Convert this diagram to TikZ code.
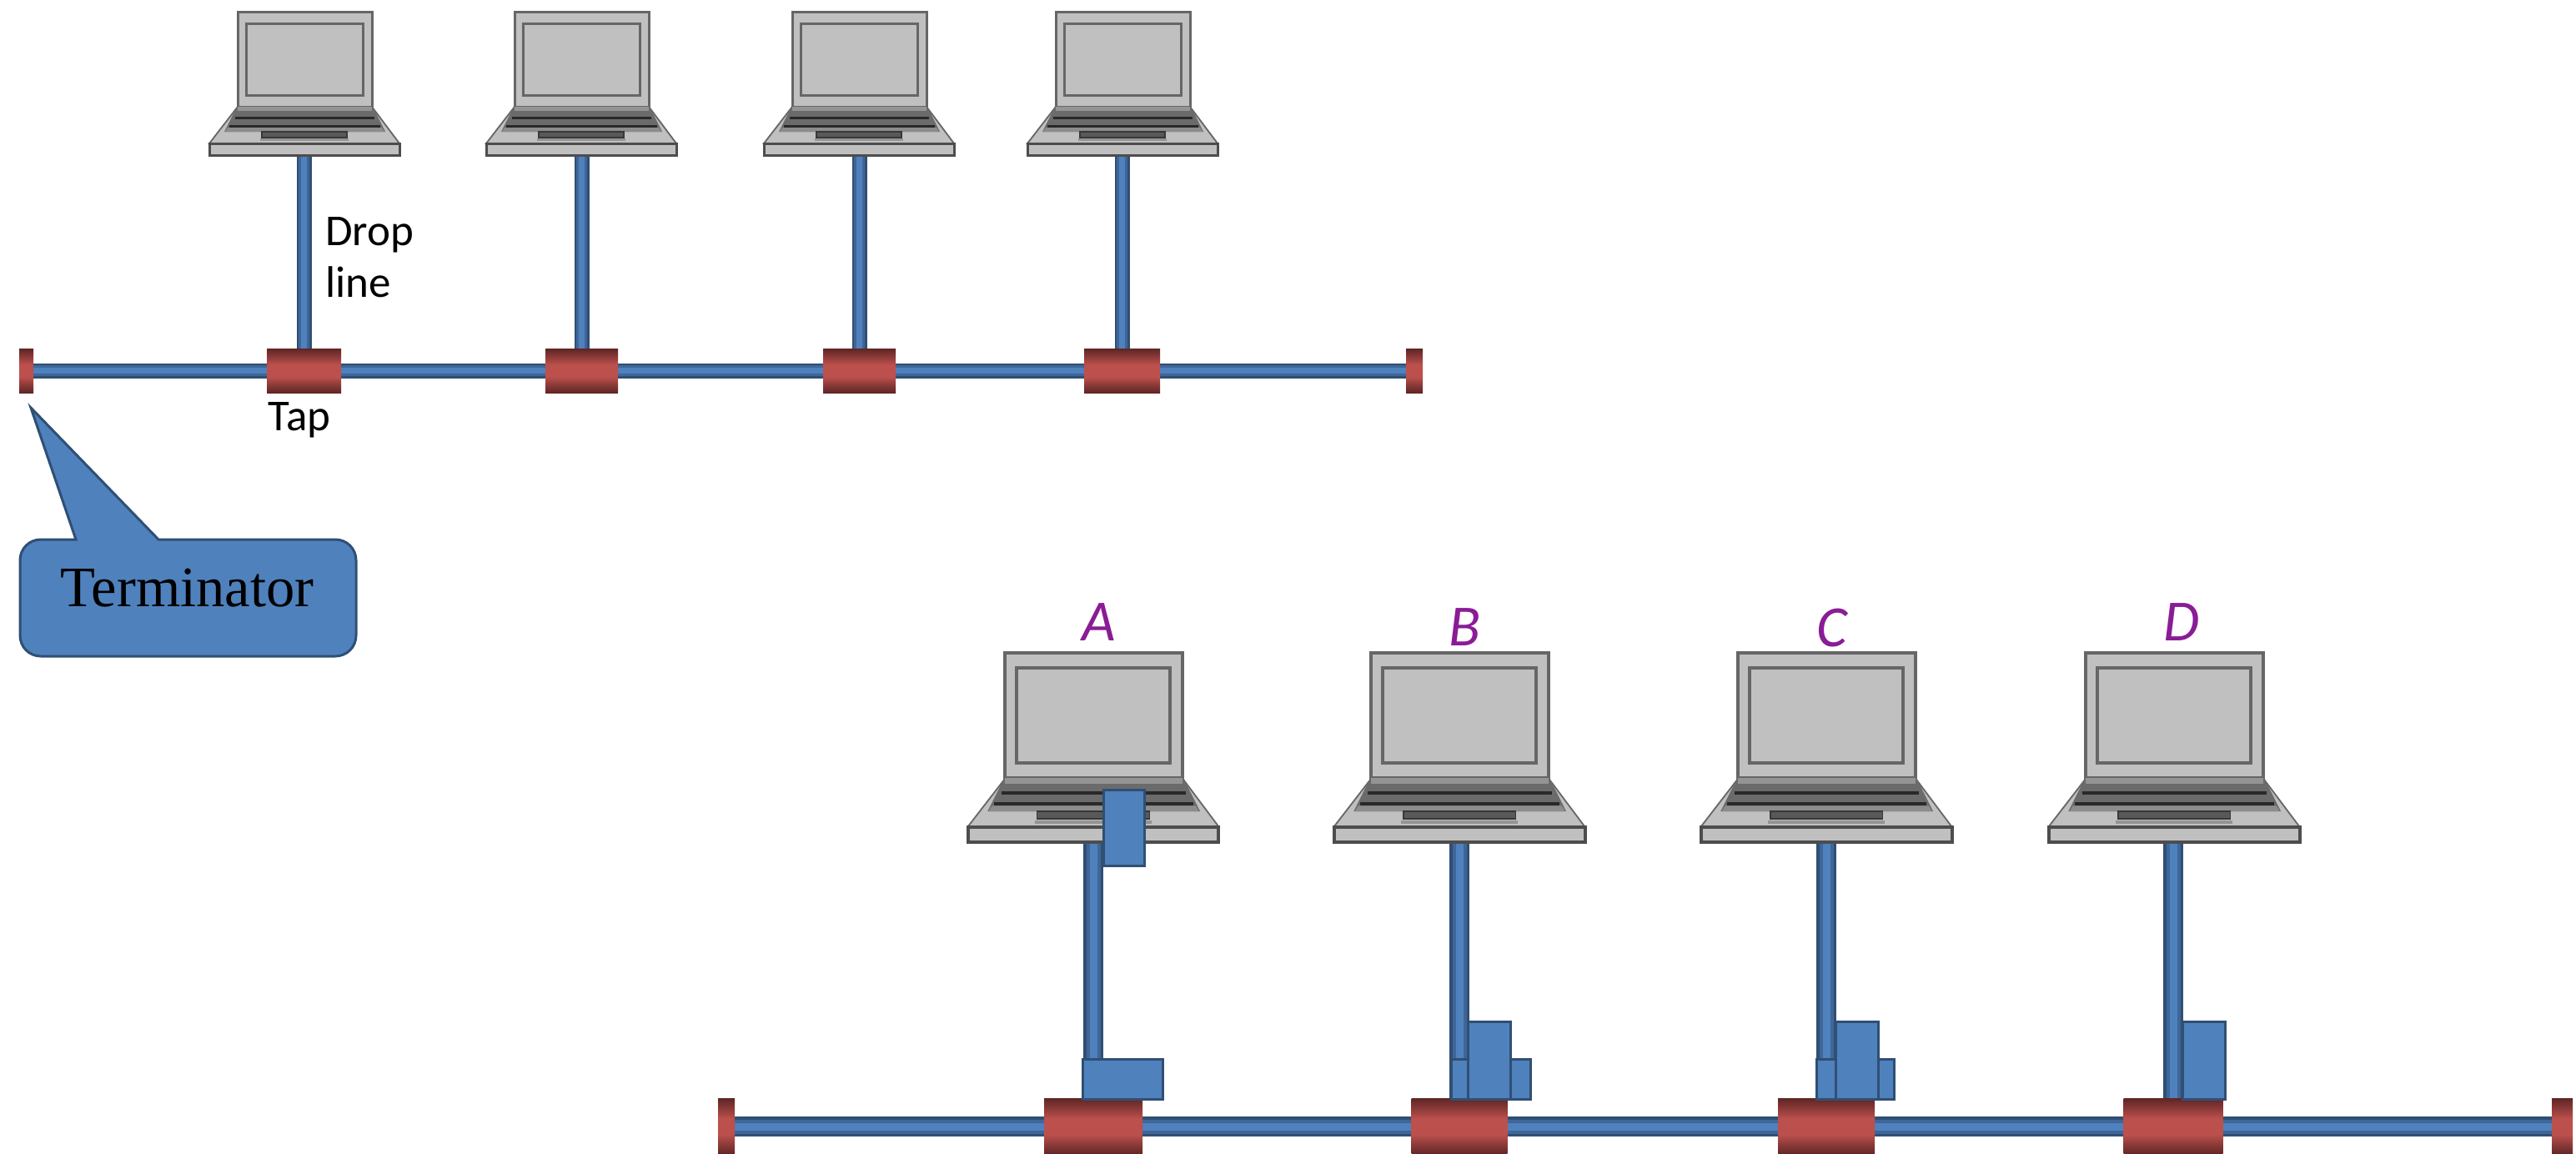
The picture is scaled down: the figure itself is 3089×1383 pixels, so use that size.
\documentclass[tikz,border=0pt]{standalone}
\usepackage{fontspec}
\newfontfamily\calib{Carlito}
\newfontfamily\timesf{Liberation Serif}
\definecolor{pipeD}{HTML}{2F4F74}
\definecolor{pipeM}{HTML}{3F6699}
\definecolor{pipeL}{HTML}{4F81BD}
\definecolor{tapD}{HTML}{5F2524}
\definecolor{tapM}{HTML}{8A3A38}
\definecolor{tapL}{HTML}{BC504C}
\definecolor{lapF}{HTML}{C0C0C0}
\definecolor{lapE}{HTML}{666666}
\definecolor{lapB}{HTML}{4D4D4D}
\definecolor{labP}{HTML}{8A1C96}
\pgfdeclareverticalshading{tapshade}{100bp}{color(0bp)=(tapD); color(25bp)=(tapD); color(34bp)=(tapM); color(43bp)=(tapL); color(57bp)=(tapL); color(66bp)=(tapM); color(75bp)=(tapD); color(100bp)=(tapD)}
\pgfdeclarelayer{pipes}
\pgfsetlayers{pipes,main}
\tikzset{
  wh/.style 2 args={minimum width=#1*0.5pt,minimum height=#2*0.5pt,inner sep=0pt,outer sep=0pt},
  tapnode/.style={rectangle,shading=tapshade,draw=none},
  pbox/.style={rectangle,draw=pipeD,fill=pipeL,line width=1.5pt},
  lapnode/.style={rectangle,draw=none},
  lapline/.style={line width=1.5pt},
  pipeS/.style={draw=pipeD,line width=9pt,postaction={draw=pipeM,line width=6.5pt},postaction={draw=pipeL,line width=3.5pt}},
  pipeB/.style={draw=pipeD,line width=12pt,postaction={draw=pipeM,line width=8.5pt},postaction={draw=pipeL,line width=4.5pt}},
  txt/.style={font=\calib\fontsize{26.5}{31}\selectfont,inner sep=0pt,text=black},
  letter/.style={font=\calib\itshape\fontsize{35}{35}\selectfont,inner sep=0pt,text=labP,anchor=base},
  laptop/.pic={
    % lid
    \path[fill=lapF,draw=lapE,lapline] (-80,-172) rectangle (81,-58);
    \path[fill=lapF,draw=lapE,lapline] (-70,-158) rectangle (70,-72);
    % deck
    \path[fill=lapF,draw=lapE,line width=0.9pt] (-80,-58) -- (81,-58) -- (114,-14) -- (-114,-14) -- cycle;
    \path[fill=black!58] (-81,-58) -- (82,-58) -- (97,-28) -- (-96,-28) -- cycle;
    \path[fill=black!42] (-80,-58) rectangle (81,-53);
    \path[fill=black!84] (-83,-46) rectangle (84,-43);
    \path[fill=black!84] (-90,-36) rectangle (91,-33);
    \path[fill=black!45] (-92,-33) -- (93,-33) -- (96,-28) -- (-95,-28) -- cycle;
    \path[fill=black!65,draw=black!78,line width=0.8pt] (-51,-28) rectangle (51,-21);
    \path[fill=black!42] (-53,-20) rectangle (53,-17);
    % base
    \path[fill=lapF,draw=lapB,lapline] (-114,-14) rectangle (114,0);
  }
}
\begin{document}
\begin{tikzpicture}[x=0.5pt,y=-0.5pt]
\useasboundingbox (0,0) rectangle (3089,1383);
% small laptops
\foreach \n/\x in {1/365,2/697,3/1030,4/1346}{
  \node[lapnode,wh={228}{172},anchor=south] (lap\n) at (\x,186) {};
  \pic at (lap\n.south) {laptop};
}
% large laptops
\foreach \n/\x in {A/1311,B/1750,C/2190,D/2607}{
  \node[lapnode,wh={303}{227},anchor=south] (lap\n) at (\x,1010) {};
  \pic[scale=1.32,lapline/.style={line width=2pt}] at (lap\n.south) {laptop};
}
% upper bus
\node[tapnode,wh={17}{53}] (tl) at (31.5,444.5) {};
\node[tapnode,wh={20}{53}] (tr) at (1696,444.5) {};
\foreach \n/\x/\w in {1/364.5/89,2/697.5/87,3/1030.5/87,4/1345.5/91}{
  \node[tapnode,wh={\w}{53}] (tap\n) at (\x,444.5) {};
}
% lower bus
\node[tapnode,wh={20}{68}] (bl) at (871,1351) {};
\node[tapnode,wh={25}{68}] (br) at (3072.5,1351) {};
\foreach \n/\x/\w in {A/1311/118,B/1750/115,C/2190/116,D/2606/119}{
  \node[tapnode,wh={\w}{68}] (tap\n) at (\x,1351) {};
}
% transceiver boxes
\node[pbox,wh={49}{91}] (upA) at (1347.5,992.5) {};
\node[pbox,wh={96}{48}] (lowA) at (1346,1294) {};
\node[pbox,wh={95}{48}] (wideB) at (1787.5,1294) {};
\node[pbox,wh={51}{93}] (tallB) at (1785.5,1271.5) {};
\node[pbox,wh={93}{48}] (wideC) at (2225,1294) {};
\node[pbox,wh={51}{93}] (tallC) at (2227,1271.5) {};
\node[pbox,wh={51}{93}] (tallD) at (2642.5,1271.5) {};
% connectors
\begin{pgfonlayer}{pipes}
  \path[pipeS] (tl.east) -- (tr.west);
  \foreach \n in {1,2,3,4}{
    \path[pipeS] (tap\n.center) -- (tap\n.center |- lap\n.south);
  }
  \path[pipeB] (bl.east) -- (br.west);
  \foreach \n in {A,B,C,D}{
    \path[pipeB] (tap\n.center) -- (tap\n.center |- lap\n.south);
  }
\end{pgfonlayer}
% callout
\path[fill=pipeL,draw=pipeD,line width=1.5pt,line join=miter]
  (91,647) -- (37,489) -- (190,647) -- (402,647)
  .. controls (416,647) and (427,658) .. (427,672) -- (427,762)
  .. controls (427,776) and (416,787) .. (402,787) -- (49,787)
  .. controls (35,787) and (24,776) .. (24,762) -- (24,672)
  .. controls (24,658) and (35,647) .. (49,647) -- cycle;
\node[font=\timesf\fontsize{34.3}{36}\selectfont,inner sep=0pt,anchor=base,text=black] (term) at (224.5,727) {Terminator};
% labels
\node[txt,align=left,anchor=north west] (drop) at (390,260) {Drop\\line};
\node[txt,anchor=base west] (taplabel) at (321,516) {Tap};
\node[letter] (la) at (1318,768) {A};
\node[letter] (lb) at (1757,774) {B};
\node[letter] (lc) at (2197,775) {C};
\node[letter] (ld) at (2616,768) {D};
\end{tikzpicture}
\end{document}
